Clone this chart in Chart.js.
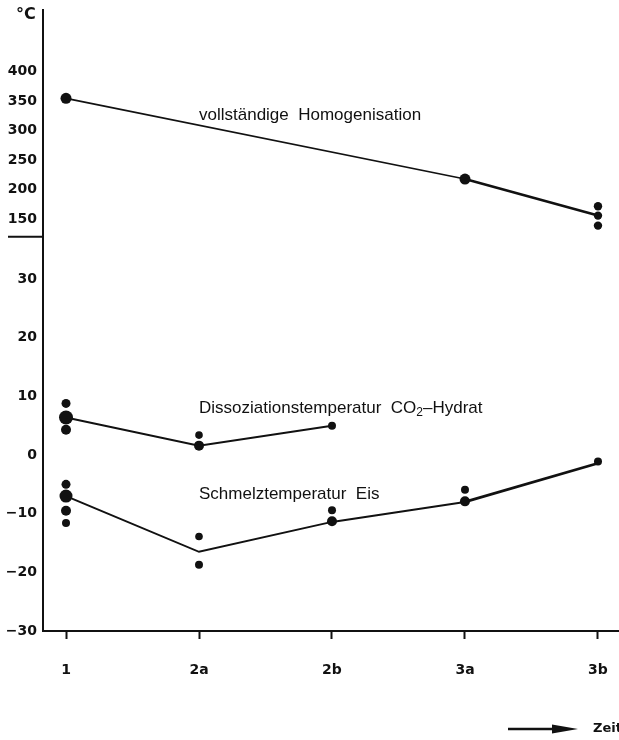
<!DOCTYPE html>
<html>
<head>
<meta charset="utf-8">
<script src="https://cdn.jsdelivr.net/npm/chart.js@4/dist/chart.umd.min.js"></script>
<style>
  html, body { margin: 0; padding: 0; background: #fff; }
  #wrap { width: 619px; height: 740px; position: relative; }
</style>
</head>
<body>
<div id="wrap"><canvas id="chart"></canvas></div>
<script>
const xLabels = ['1', '2a', '2b', '3a', '3b'];
const upperTicks = [150, 200, 250, 300, 350, 400];
const lowerTicks = [-30, -20, -10, 0, 10, 20, 30];

// vollständige Homogenisation (°C, upper part of the axis)
const homogLineAt = ['1', '3a', '3b'];
const homogLine = [355, 218, 156];
const homogDotsAt = ['1', '3a', '3b', '3b', '3b'];
const homogDots = [355, 218, 172, 156, 139];

// Dissoziationstemperatur CO2-Hydrat
const dissozLineAt = ['1', '2a', '2b'];
const dissozLine = [6.4, 1.6, 5.0];
const dissozDotsAt = ['1', '1', '1', '2a', '2a', '2b'];
const dissozDots = [8.8, 6.4, 4.3, 3.4, 1.6, 5.0];

// Schmelztemperatur Eis
const schmelzLineAt = ['1', '2a', '2b', '3a', '3b'];
const schmelzLine = [-7.0, -16.5, -11.4, -8.0, -1.4];
const schmelzDotsAt = ['1', '1', '1', '1', '2a', '2a', '2b', '2b', '3a', '3a', '3b'];
const schmelzDots = [-5.0, -7.0, -9.5, -11.6, -13.9, -18.7, -9.4, -11.3, -5.9, -7.9, -1.1];

// dot sizes
const homogRadius = [5.5, 5.5, 4.2, 4.2, 4.2];
const dissozRadius = [4.5, 7, 5, 3.8, 5, 4];
const schmelzRadius = [4.5, 6.5, 5, 4, 3.8, 4, 4, 5, 4, 5, 4];

const toPoints = (at, vals) => vals.map((v, i) => ({ x: xLabels.indexOf(at[i]), y: v }));

const ink = '#111';
const tickFont = { family: 'DejaVu Sans', weight: 'bold', size: 14 };
const noteFont = '17px "Liberation Sans", Arial, sans-serif';

function lineSet(at, vals, axis, widths) {
  return {
    type: 'line',
    data: toPoints(at, vals),
    yAxisID: axis,
    borderColor: ink,
    borderWidth: widths[0],
    pointRadius: 0,
    tension: 0,
    segment: { borderWidth: ctx => widths[ctx.p0DataIndex] }
  };
}

function dotSet(at, vals, axis, radius) {
  return {
    type: 'scatter',
    data: toPoints(at, vals),
    yAxisID: axis,
    backgroundColor: ink,
    borderWidth: 0,
    pointRadius: radius,
    pointHoverRadius: radius
  };
}

// texts, break mark and the time arrow
const decorations = {
  id: 'decorations',
  afterDraw(chart) {
    const { ctx, chartArea } = chart;
    const x = chart.scales.x, up = chart.scales.yUp, lo = chart.scales.yLow;
    ctx.save();
    ctx.fillStyle = ink;
    ctx.strokeStyle = ink;

    // axis break
    ctx.lineWidth = 2;
    ctx.beginPath();
    ctx.moveTo(8, lo.top);
    ctx.lineTo(chartArea.left, lo.top);
    ctx.stroke();

    // unit
    ctx.font = 'bold 16px "DejaVu Sans"';
    ctx.textAlign = 'left';
    ctx.textBaseline = 'middle';
    ctx.fillText('°C', 16, 15);

    // curve labels
    ctx.font = noteFont;
    const nx = x.getPixelForValue(1);
    ctx.fillText('vollständige  Homogenisation', nx, up.getPixelForValue(327));
    const dy = lo.getPixelForValue(7.9);
    let cx = nx;
    const part1 = 'Dissoziationstemperatur  CO';
    ctx.fillText(part1, cx, dy);
    cx += ctx.measureText(part1).width;
    ctx.font = '12px "Liberation Sans", Arial, sans-serif';
    ctx.fillText('2', cx, dy + 4);
    cx += ctx.measureText('2').width;
    ctx.font = noteFont;
    ctx.fillText('–Hydrat', cx, dy);
    ctx.fillText('Schmelztemperatur  Eis', nx, lo.getPixelForValue(-6.75));

    // Zeit arrow
    const ay = 729;
    ctx.lineWidth = 2.5;
    ctx.beginPath();
    ctx.moveTo(508, ay);
    ctx.lineTo(560, ay);
    ctx.stroke();
    ctx.beginPath();
    ctx.moveTo(552, ay - 4.5);
    ctx.lineTo(578, ay);
    ctx.lineTo(552, ay + 4.5);
    ctx.closePath();
    ctx.fill();
    ctx.font = 'bold 13px "DejaVu Sans"';
    ctx.fillText('Zeit', 593, ay);
    ctx.restore();
  }
};

const yCommon = {
  type: 'linear',
  position: 'left',
  stack: 'temp',
  grid: { display: false, drawTicks: false },
  border: { display: true, color: ink, width: 2 },
  ticks: { color: ink, font: tickFont, padding: 6, autoSkip: false,
           callback: v => (v < 0 ? '−' + Math.abs(v) : String(v)) },
  afterFit: s => { s.width = 43; s.paddingTop = 0; s.paddingBottom = 0; }
};

new Chart(document.getElementById('chart'), {
  data: {
    datasets: [
      lineSet(homogLineAt, homogLine, 'yUp', [1.6, 2.6]),
      lineSet(dissozLineAt, dissozLine, 'yLow', [2, 2]),
      lineSet(schmelzLineAt, schmelzLine, 'yLow', [2, 2, 2, 2.8]),
      dotSet(homogDotsAt, homogDots, 'yUp', homogRadius),
      dotSet(dissozDotsAt, dissozDots, 'yLow', dissozRadius),
      dotSet(schmelzDotsAt, schmelzDots, 'yLow', schmelzRadius)
    ]
  },
  options: {
    responsive: true,
    maintainAspectRatio: false,
    animation: false,
    layout: { autoPadding: false, padding: { top: 10, left: 0, right: 0, bottom: 0 } },
    plugins: { legend: { display: false }, tooltip: { enabled: false } },
    scales: {
      x: {
        type: 'linear',
        min: -0.173,
        max: 4.158,
        grid: { drawOnChartArea: false, drawTicks: true, tickLength: 8, tickColor: ink, tickWidth: 2 },
        border: { display: true, color: ink, width: 2 },
        ticks: { color: ink, font: tickFont, padding: 23, autoSkip: false, maxRotation: 0,
                 callback: v => xLabels[v] },
        afterBuildTicks: s => { s.ticks = xLabels.map((_, i) => ({ value: i })); },
        afterFit: s => { s.height = 109; s.paddingLeft = 0; s.paddingRight = 0; }
      },
      yLow: Object.assign({}, yCommon, {
        min: -30, max: 37.2, stackWeight: 394.5,
        afterBuildTicks: s => { s.ticks = lowerTicks.map(v => ({ value: v })); }
      }),
      yUp: Object.assign({}, yCommon, {
        min: 120, max: 505, stackWeight: 227,
        afterBuildTicks: s => { s.ticks = upperTicks.map(v => ({ value: v })); }
      })
    }
  },
  plugins: [decorations]
});
</script>
</body>
</html>
